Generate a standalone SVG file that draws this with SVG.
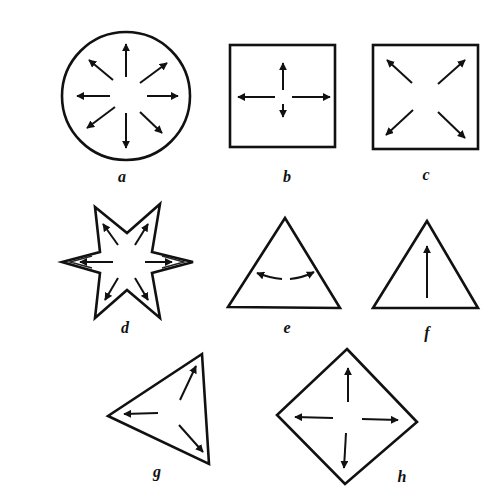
<svg xmlns="http://www.w3.org/2000/svg" width="488" height="500" viewBox="0 0 488 500">
<defs>
<marker id="ah" viewBox="0 0 10 10" refX="9" refY="5" markerWidth="8" markerHeight="8" markerUnits="userSpaceOnUse" orient="auto">
<path d="M0,0 L10,5 L0,10 z" fill="#111"/>
</marker>
<style>
.sh{fill:none;stroke:#111;stroke-width:2.6;stroke-linejoin:miter}
.in{fill:none;stroke:#222;stroke-width:1.4}
.ar{fill:none;stroke:#111;stroke-width:2;marker-end:url(#ah)}
.lb{font-family:"Liberation Serif",serif;font-style:italic;font-weight:bold;font-size:16px;fill:#111;text-anchor:middle}
</style>
</defs>
<rect width="488" height="500" fill="#fff"/>
<g id="a">
<circle class="sh" cx="126" cy="96" r="64"/>
<text class="lb" x="122" y="182">a</text>
</g>
<g id="b">
<rect class="sh" x="230" y="45" width="105" height="102"/>
<text class="lb" x="287" y="182">b</text>
</g>
<g id="c">
<rect class="sh" x="373" y="45" width="105" height="104"/>
<text class="lb" x="426" y="180">c</text>
</g>
<g id="d">
<polygon class="sh" points="95,207 127,233 160,204 152,252 193,262 152,273 160,318 127,290 95,318 100,273 62,262 100,252"/>
<polyline class="in" points="92,256 70,262 92,268"/>
<polyline class="in" points="162,256 184,262 162,268"/>
<text class="lb" x="125" y="333">d</text>
</g>
<g id="e">
<polygon class="sh" points="285,218 228,307 340,308"/>
<text class="lb" x="287" y="333">e</text>
</g>
<g id="f">
<polygon class="sh" points="427,221 373,308 478,308"/>
<text class="lb" x="427" y="338">f</text>
</g>
<g id="g">
<polygon class="sh" points="202,354 108,416 209,464"/>
<text class="lb" x="157" y="477">g</text>
</g>
<g id="h">
<polygon class="sh" points="347,349 417,422 345,484 277,415"/>
<text class="lb" x="402" y="482">h</text>
</g>
<g id="connectors">
<line class="ar" x1="126" y1="77" x2="126" y2="44"/>
<line class="ar" x1="126" y1="113" x2="126" y2="148"/>
<line class="ar" x1="110" y1="96" x2="77" y2="96"/>
<line class="ar" x1="147" y1="96" x2="178" y2="96"/>
<line class="ar" x1="113" y1="80" x2="89" y2="60"/>
<line class="ar" x1="140" y1="83" x2="167" y2="63"/>
<line class="ar" x1="115" y1="107" x2="87" y2="128"/>
<line class="ar" x1="140" y1="112" x2="162" y2="133"/>

<line class="ar" x1="275" y1="97" x2="238" y2="97"/>
<line class="ar" x1="292" y1="97" x2="330" y2="97"/>
<line class="ar" x1="283" y1="90" x2="283" y2="63"/>
<line class="ar" x1="283" y1="104" x2="283" y2="117"/>

<line class="ar" x1="412" y1="83" x2="387" y2="60"/>
<line class="ar" x1="438" y1="84" x2="465" y2="60"/>
<line class="ar" x1="413" y1="110" x2="386" y2="135"/>
<line class="ar" x1="438" y1="112" x2="465" y2="138"/>

<line class="ar" x1="113" y1="262" x2="80" y2="262"/>
<line class="ar" x1="145" y1="262" x2="172" y2="262"/>
<line class="ar" x1="118" y1="245" x2="103" y2="224"/>
<line class="ar" x1="135" y1="245" x2="148" y2="224"/>
<line class="ar" x1="118" y1="278" x2="105" y2="300"/>
<line class="ar" x1="135" y1="278" x2="148" y2="300"/>

<path class="ar" d="M282,279 Q270,278 257,273"/>
<path class="ar" d="M290,279 Q302,278 314,272"/>

<line class="ar" x1="427" y1="298" x2="427" y2="246"/>

<line class="ar" x1="180" y1="400" x2="196" y2="366"/>
<line class="ar" x1="158" y1="413" x2="124" y2="414"/>
<line class="ar" x1="179" y1="425" x2="203" y2="452"/>

<line class="ar" x1="348" y1="402" x2="348" y2="368"/>
<line class="ar" x1="333" y1="418" x2="295" y2="417"/>
<line class="ar" x1="362" y1="419" x2="398" y2="420"/>
<line class="ar" x1="346" y1="433" x2="344" y2="468"/>
</g>
</svg>
